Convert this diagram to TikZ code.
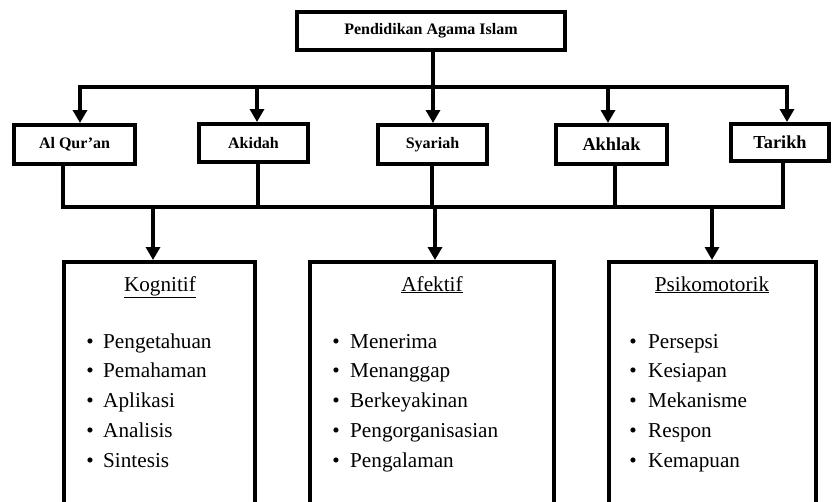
\documentclass[tikz,border=0pt]{standalone}
\usepackage{fontspec}
\setmainfont{Liberation Serif}
\usetikzlibrary{arrows.meta}
\begin{document}
\begin{tikzpicture}[x=1pt,y=-1pt,
  box/.style={draw, line width=4pt, inner sep=0pt},
  conn/.style={line width=3.5pt, line cap=rect},
  arr/.style={line width=3.5pt, -{Triangle[width=14pt,length=13pt]}},
  lab/.style={font=\bfseries\fontsize{16}{18}\selectfont},
  labbig/.style={font=\bfseries\fontsize{18.3}{20}\selectfont},
  head/.style={font=\fontsize{21.2}{24}\selectfont, anchor=base, inner sep=0pt},
  item/.style={font=\fontsize{21.2}{24}\selectfont, anchor=base west, inner sep=0pt},
  bul/.style={font=\fontsize{21.2}{24}\selectfont, anchor=base, inner sep=0pt}
]
\useasboundingbox (0,0) rectangle (833,501);
\clip (0,0) rectangle (833,501);
% top box
\node[box, lab, minimum width=268pt, minimum height=38pt] (pai) at (431,31) {Pendidikan Agama Islam};
% second row
\node[box, lab, minimum width=121pt, minimum height=39pt] (quran) at (74.5,144.5) {Al Qur’an};
\node[box, lab, minimum width=109pt, minimum height=38pt] (akidah) at (253.5,143) {Akidah};
\node[box, lab, minimum width=109pt, minimum height=39pt] (syariah) at (432.5,144.5) {Syariah};
\node[box, labbig, minimum width=111pt, minimum height=39pt] (akhlak) at (611.5,144.5) {Akhlak};
\node[box, labbig, minimum width=98pt, minimum height=37pt] (tarikh) at (780,142.5) {Tarikh};
% third row
\node[box, minimum width=191pt, minimum height=298pt] (kog) at (159.5,411) {};
\node[box, minimum width=244pt, minimum height=298pt] (afe) at (432,411) {};
\node[box, minimum width=207pt, minimum height=298pt] (psi) at (712.5,411) {};
% top distribution
\coordinate (t1) at (80,87);
\coordinate (t2) at (257,87);
\coordinate (t3) at (433,87);
\coordinate (t4) at (608,87);
\coordinate (t5) at (787,87);
\draw[conn] (t1) -- (t5);
\draw[conn] (pai.south -| t3) -- (t3);
\foreach \c/\n in {t1/quran,t2/akidah,t3/syariah,t4/akhlak,t5/tarikh}
  \draw[arr] (\c) -- (\c |- \n.north);
% bottom collection
\coordinate (b1) at (63,207);
\coordinate (b2) at (258,207);
\coordinate (b3) at (432,207);
\coordinate (b4) at (615,207);
\coordinate (b5) at (783,207);
\draw[conn] (b1) -- (b5);
\foreach \c/\n in {b1/quran,b2/akidah,b3/syariah,b4/akhlak,b5/tarikh}
  \draw[conn] (\c |- \n.south) -- (\c);
\coordinate (d1) at (153,207);
\coordinate (d2) at (435,207);
\coordinate (d3) at (712,207);
\draw[arr] (d1) -- (d1 |- kog.north);
\draw[arr] (d2) -- (d2 |- afe.north);
\draw[arr] (d3) -- (d3 |- psi.north);
% headings
\node[head] (hk) at (160,291) {\underline{Kognitif}};
\node[head] (ha) at (432,291) {\underline{Afektif}};
\node[head] (hp) at (712,291) {\underline{Psikomotorik}};
% items
\foreach \t [count=\i] in {Pengetahuan,Pemahaman,Aplikasi,Analisis,Sintesis}{
  \node[bul] (kb\i) at (90,{348+29.75*(\i-1)}) {•};
  \node[item] (ki\i) at (103,{348+29.75*(\i-1)}) {\t};
}
\foreach \t [count=\i] in {Menerima,Menanggap,Berkeyakinan,Pengorganisasian,Pengalaman}{
  \node[bul] (ab\i) at (336,{348+29.75*(\i-1)}) {•};
  \node[item] (ai\i) at (350,{348+29.75*(\i-1)}) {\t};
}
\foreach \t [count=\i] in {Persepsi,Kesiapan,Mekanisme,Respon,Kemapuan}{
  \node[bul] (pb\i) at (633,{348+29.75*(\i-1)}) {•};
  \node[item] (pi\i) at (648,{348+29.75*(\i-1)}) {\t};
}
\end{tikzpicture}
\end{document}
